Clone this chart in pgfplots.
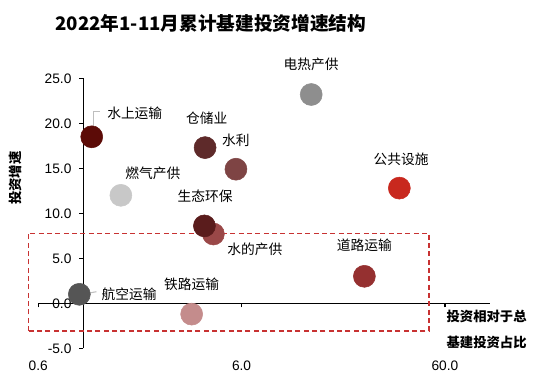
\documentclass[border=0pt]{standalone}
\usepackage{pgfplots}
\pgfplotsset{compat=1.18}
\usepackage{fontspec}
\setmainfont{Liberation Sans}
\newfontfamily\cjk{Noto Sans CJK SC}
\definecolor{cShuiShang}{HTML}{5C0B07}
\definecolor{cDianRe}{HTML}{8E8E8E}
\definecolor{cCangChu}{HTML}{5E2A2A}
\definecolor{cShuiLi}{HTML}{7E4444}
\definecolor{cRanQi}{HTML}{C8C8C8}
\definecolor{cGongGong}{HTML}{C8281E}
\definecolor{cShengTai}{HTML}{5A1C1C}
\definecolor{cShuiDe}{HTML}{9A4848}
\definecolor{cHangKong}{HTML}{555555}
\definecolor{cTieLu}{HTML}{C48C8C}
\definecolor{cDaoLu}{HTML}{953030}
\definecolor{cDash}{HTML}{C83232}
\definecolor{cLead}{HTML}{BEBEBE}
\begin{document}
\begin{tikzpicture}[x=1pt,y=1pt]
\begin{axis}[
  at={(28.65pt,31.275pt)}, anchor=south west,
  scale only axis, width=338.9pt, height=202.5pt,
  xmode=log, xmin=0.6, xmax=100, ymin=-5, ymax=25,
  axis lines=middle, axis line style={-, line width=0.9pt, black},
  clip=false,
  hide obscured x ticks=false, hide obscured y ticks=false,
  xtick={0.6,6,60}, xticklabels={0.6,6.0,60.0},
  xminorticks=false,
  ytick={-5,0,5,10,15,20,25},
  /pgf/number format/assume math mode=true,
  tick align=outside, major tick length=3pt,
  tick style={black, line width=0.9pt},
  ticklabel style={font=\fontsize{10.3}{12}\selectfont},
  xticklabel style={anchor=center, yshift=-44pt},
  yticklabel style={anchor=east, xshift=-2.4pt, /pgf/number format/fixed, /pgf/number format/fixed zerofill, /pgf/number format/precision=1},
  mark size=8.25pt,
]
\addplot[only marks, mark=*, color=cShuiShang] coordinates {(1.10,18.5)};
\addplot[only marks, mark=*, color=cDianRe] coordinates {(13.2,23.2)};
\addplot[only marks, mark=*, color=cCangChu] coordinates {(3.97,17.3)};
\addplot[only marks, mark=*, color=cShuiLi] coordinates {(5.63,14.9)};
\addplot[only marks, mark=*, color=cRanQi] coordinates {(1.53,12.0)};
\addplot[only marks, mark=*, color=cGongGong] coordinates {(35.8,12.8)};
\addplot[only marks, mark=*, color=cShuiDe] coordinates {(4.36,7.7)};
\addplot[only marks, mark=*, color=cShengTai] coordinates {(3.94,8.6)};
\addplot[only marks, mark=*, color=cHangKong] coordinates {(0.956,1.0)};
\addplot[only marks, mark=*, color=cTieLu] coordinates {(3.41,-1.2)};
\addplot[only marks, mark=*, color=cDaoLu] coordinates {(24.1,3.0)};

\draw[cDash, line width=0.8pt, dash pattern=on 3.75pt off 2.5pt]
  (axis cs:0.537,-3.08) rectangle (axis cs:50.1,7.8);
\draw[cLead, line width=0.8pt] (axis cs:1.12,18.7) -- (axis cs:1.12,21.3) -- (axis cs:1.21,21.3);
\draw[cLead, line width=0.8pt] (axis cs:0.99,1.0) -- (axis cs:1.16,1.29);

\begin{scope}[every node/.style={font=\cjk\fontsize{10.3}{12}\selectfont, inner sep=0pt}]
\node at (axis cs:13.2,26.5) {电热产供};
\node at (axis cs:1.79,21.1) {水上运输};
\node at (axis cs:4.04,20.6) {仓储业};
\node at (axis cs:5.63,18.1) {水利};
\node at (axis cs:36.5,16.0) {公共设施};
\node at (axis cs:2.2,14.4) {燃气产供};
\node at (axis cs:3.97,11.9) {生态环保};
\node at (axis cs:6.98,6.0) {水的产供};
\node at (axis cs:24.1,6.4) {道路运输};
\node at (axis cs:3.41,2.1) {铁路运输};
\node at (axis cs:1.68,1.0) {航空运输};
\end{scope}
\node[font=\cjk\bfseries\fontsize{10}{19.5}\selectfont, align=center, inner sep=0pt]
  at (axis cs:96.2,-2.95) {投资相对于总\\基建投资占比};
\node[font=\cjk\bfseries\fontsize{10}{12}\selectfont, rotate=90, inner sep=0pt]
  at (axis cs:0.461,13.9) {投资增速};
\end{axis}
\node[font=\cjk\bfseries\fontsize{14}{16}\selectfont, inner sep=0pt] at (158.1pt,275pt) {2022年1-11月累计基建投资增速结构};
\pgfresetboundingbox
\path (0,0) rectangle (412.5pt,292.5pt);
\end{tikzpicture}
\end{document}
